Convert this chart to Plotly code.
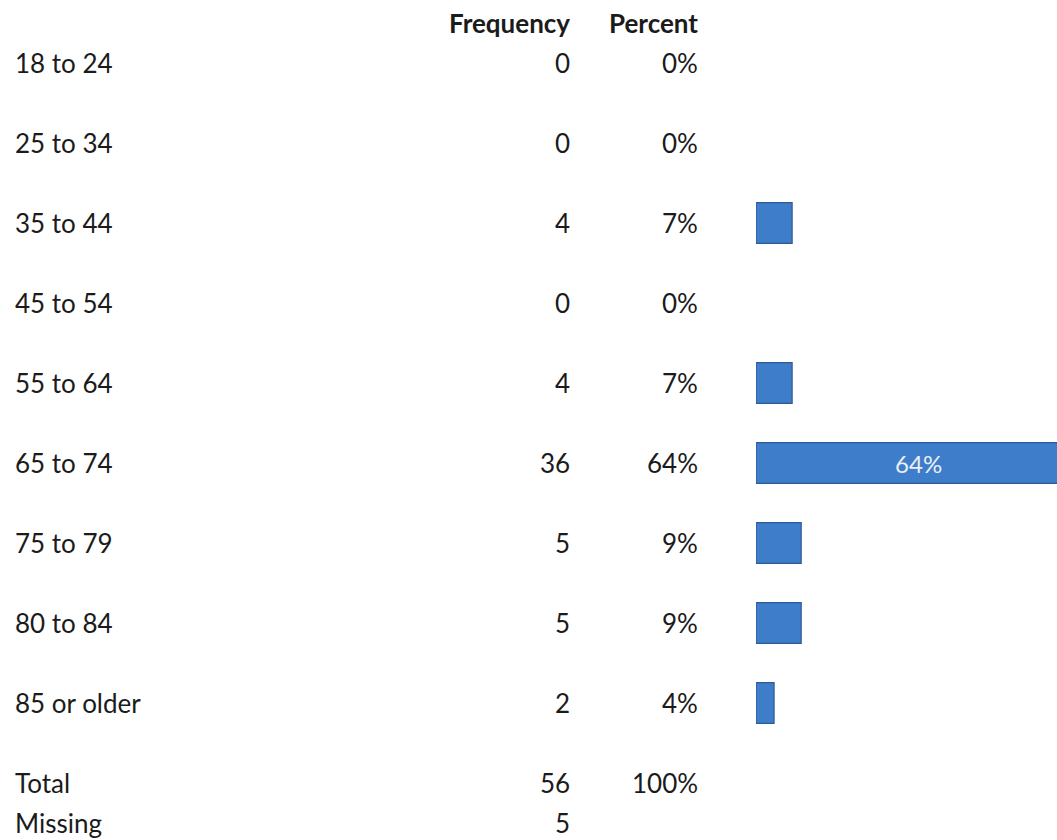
"""
Age distribution table with in-cell data bars (frequency / percent)
"""

import plotly.graph_objects as go


#-------------------------------------------------------------------------
# Data
#-------------------------------------------------------------------------

age_groups = [
    '18 to 24',
    '25 to 34',
    '35 to 44',
    '45 to 54',
    '55 to 64',
    '65 to 74',
    '75 to 79',
    '80 to 84',
    '85 or older',
]

frequency = [0, 0, 4, 0, 4, 36, 5, 5, 2]
percent_labels = ['0%', '0%', '7%', '0%', '7%', '64%', '9%', '9%', '4%']

total_count = 56
total_percent = '100%'
missing_count = 5


#-------------------------------------------------------------------------
# Colors, fonts
#-------------------------------------------------------------------------

TEXT_FONT = dict(family='Lato, Calibri, sans-serif', size=26, color='#1b1b1b')
HEAD_FONT = dict(family='Lato, Calibri, sans-serif', size=26, color='#1b1b1b', weight='bold')
BAR_COLOR = '#3e7dc9'
BAR_EDGE = '#2b5b98'

W, H = 1057, 840

# column anchors (paper fraction)
X_LABEL = 13 / W
X_FREQ = 572 / W
X_PCT = 700 / W


#-------------------------------------------------------------------------
# Figure
#-------------------------------------------------------------------------

pct_values = [f / total_count * 100 for f in frequency]
bar_text = [p if v >= 20 else '' for p, v in zip(percent_labels, pct_values)]
edge_width = [1.2 if v > 0 else 0 for v in pct_values]   # no outline on empty bars

fig = go.Figure()
fig.add_trace(go.Bar(
    x=pct_values,
    y=age_groups,
    orientation='h',
    width=0.51,
    marker=dict(color=BAR_COLOR, line=dict(color=BAR_EDGE, width=edge_width)),
    text=bar_text,
    textposition='inside',
    insidetextanchor='middle',
    textfont=dict(family='Lato, Calibri, sans-serif', size=24, color='#e9eff7'),
    hovertemplate='%{y}: %{x:.1f}%<extra></extra>',
    cliponaxis=True,
))

annotations = []

# header row
annotations.append(dict(text='Frequency', xref='paper', yref='paper',
                        x=X_FREQ, y=(H - 23) / H, xanchor='right', yanchor='middle',
                        showarrow=False, font=HEAD_FONT))
annotations.append(dict(text='Percent', xref='paper', yref='paper',
                        x=X_PCT, y=(H - 23) / H, xanchor='right', yanchor='middle',
                        showarrow=False, font=HEAD_FONT))

# body rows
for grp, f, p in zip(age_groups, frequency, percent_labels):
    annotations.append(dict(text=grp, xref='paper', yref='y', x=X_LABEL, y=grp,
                            xanchor='left', yanchor='middle', showarrow=False, font=TEXT_FONT))
    annotations.append(dict(text=str(f), xref='paper', yref='y', x=X_FREQ, y=grp,
                            xanchor='right', yanchor='middle', showarrow=False, font=TEXT_FONT))
    annotations.append(dict(text=p, xref='paper', yref='y', x=X_PCT, y=grp,
                            xanchor='right', yanchor='middle', showarrow=False, font=TEXT_FONT))

# totals
y_total = (H - 783) / H
y_missing = (H - 823) / H
for txt, x, y, anchor in [
    ('Total', X_LABEL, y_total, 'left'),
    (str(total_count), X_FREQ, y_total, 'right'),
    (total_percent, X_PCT, y_total, 'right'),
    ('Missing', X_LABEL, y_missing, 'left'),
    (str(missing_count), X_FREQ, y_missing, 'right'),
]:
    annotations.append(dict(text=txt, xref='paper', yref='paper', x=x, y=y,
                            xanchor=anchor, yanchor='middle', showarrow=False, font=TEXT_FONT))

fig.update_layout(
    width=W,
    height=H,
    margin=dict(l=0, r=0, t=0, b=0),
    plot_bgcolor='white',
    paper_bgcolor='white',
    showlegend=False,
    annotations=annotations,
    xaxis=dict(domain=[756 / W, 1], range=[0, 59.5], visible=False, fixedrange=True),
    yaxis=dict(domain=[(H - 743) / H, (H - 23) / H], autorange='reversed',
               visible=False, fixedrange=True),
)

# page body has a default 8px margin - drop it so the figure fills the window
fig.write_html(
    "out.html",
    config={'displayModeBar': False},
    post_script="document.body.style.margin='0';",
)
